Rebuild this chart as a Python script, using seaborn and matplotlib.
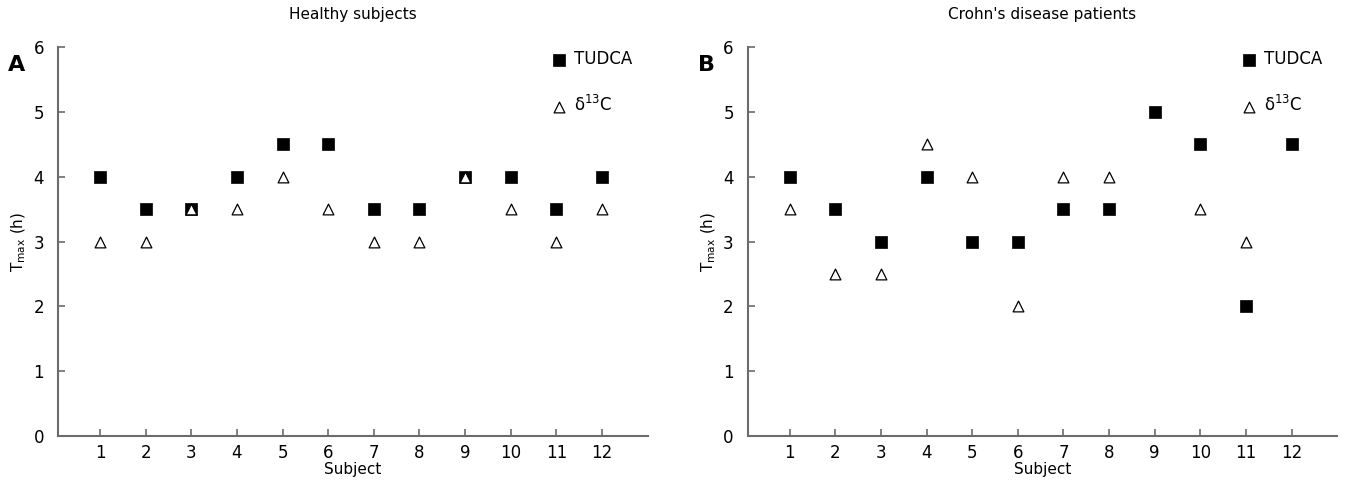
import numpy as np
import pandas as pd
import seaborn as sns
import matplotlib.pyplot as plt

# Data
subjects = list(range(1, 13))
healthy_tudca = [4, 3.5, 3.5, 4, 4.5, 4.5, 3.5, 3.5, 4, 4, 3.5, 4]
healthy_d13c = [3, 3, 3.5, 3.5, 4, 3.5, 3, 3, 4, 3.5, 3, 3.5]
crohn_tudca = [4, 3.5, 3, 4, 3, 3, 3.5, 3.5, 5, 4.5, 2, 4.5]
crohn_d13c = [3.5, 2.5, 2.5, 4.5, 4, 2, 4, 4, np.nan, 3.5, 3, np.nan]

panels = [
    ("A", "Healthy subjects", healthy_tudca, healthy_d13c),
    ("B", "Crohn's disease patients", crohn_tudca, crohn_d13c),
]

sns.set_style("ticks")
plt.rcParams["font.family"] = ["DejaVu Sans"]
plt.rcParams["mathtext.fontset"] = "dejavusans"
plt.rcParams["text.color"] = "black"
plt.rcParams["axes.labelcolor"] = "black"
plt.rcParams["xtick.labelcolor"] = "black"
plt.rcParams["ytick.labelcolor"] = "black"

fig = plt.figure(figsize=(13.52, 4.84), dpi=100)
axes = [fig.add_axes([0.043, 0.099, 0.436, 0.804]),
        fig.add_axes([0.553, 0.099, 0.436, 0.804])]

spine_col = "#6b6b6b"

for ax, (letter, title, tudca, d13c) in zip(axes, panels):
    df_t = pd.DataFrame({"Subject": subjects, "Tmax": tudca})
    df_c = pd.DataFrame({"Subject": subjects, "Tmax": d13c})
    sns.scatterplot(data=df_t, x="Subject", y="Tmax", ax=ax, marker="s",
                    s=80, color="black", edgecolor="black", linewidth=0.5,
                    label="TUDCA", zorder=3)
    sns.scatterplot(data=df_c, x="Subject", y="Tmax", ax=ax, marker="^",
                    s=60, facecolor="white", edgecolor="black", linewidth=0.9,
                    label="δ$^{13}$C", zorder=4)

    ax.set_xlim(0.08, 13)
    ax.set_ylim(0, 6)
    ax.set_xticks(subjects)
    ax.set_yticks(range(0, 7))
    ax.tick_params(direction="in", length=5, width=1.2, color=spine_col,
                   labelsize=12, pad=6)
    ax.tick_params(axis="y", pad=10)
    for side in ["top", "right"]:
        ax.spines[side].set_visible(False)
    for side in ["left", "bottom"]:
        ax.spines[side].set_color(spine_col)
        ax.spines[side].set_linewidth(1.5)

    ax.set_xlabel("Subject", fontsize=11, labelpad=0)
    ax.set_ylabel(r"T$_{\mathrm{max}}$ (h)", fontsize=11, labelpad=4)
    ax.set_title(title, fontsize=11, pad=20)
    ax.text(-0.085, 0.98, letter, transform=ax.transAxes, fontsize=16,
            fontweight="bold", ha="left", va="top")

    ax.legend(loc="upper right", bbox_to_anchor=(1.0, 1.03),
              frameon=False, fontsize=12, labelspacing=1.6,
              handletextpad=0.3, handlelength=1.2)

plt.savefig("out.png", dpi=100)
